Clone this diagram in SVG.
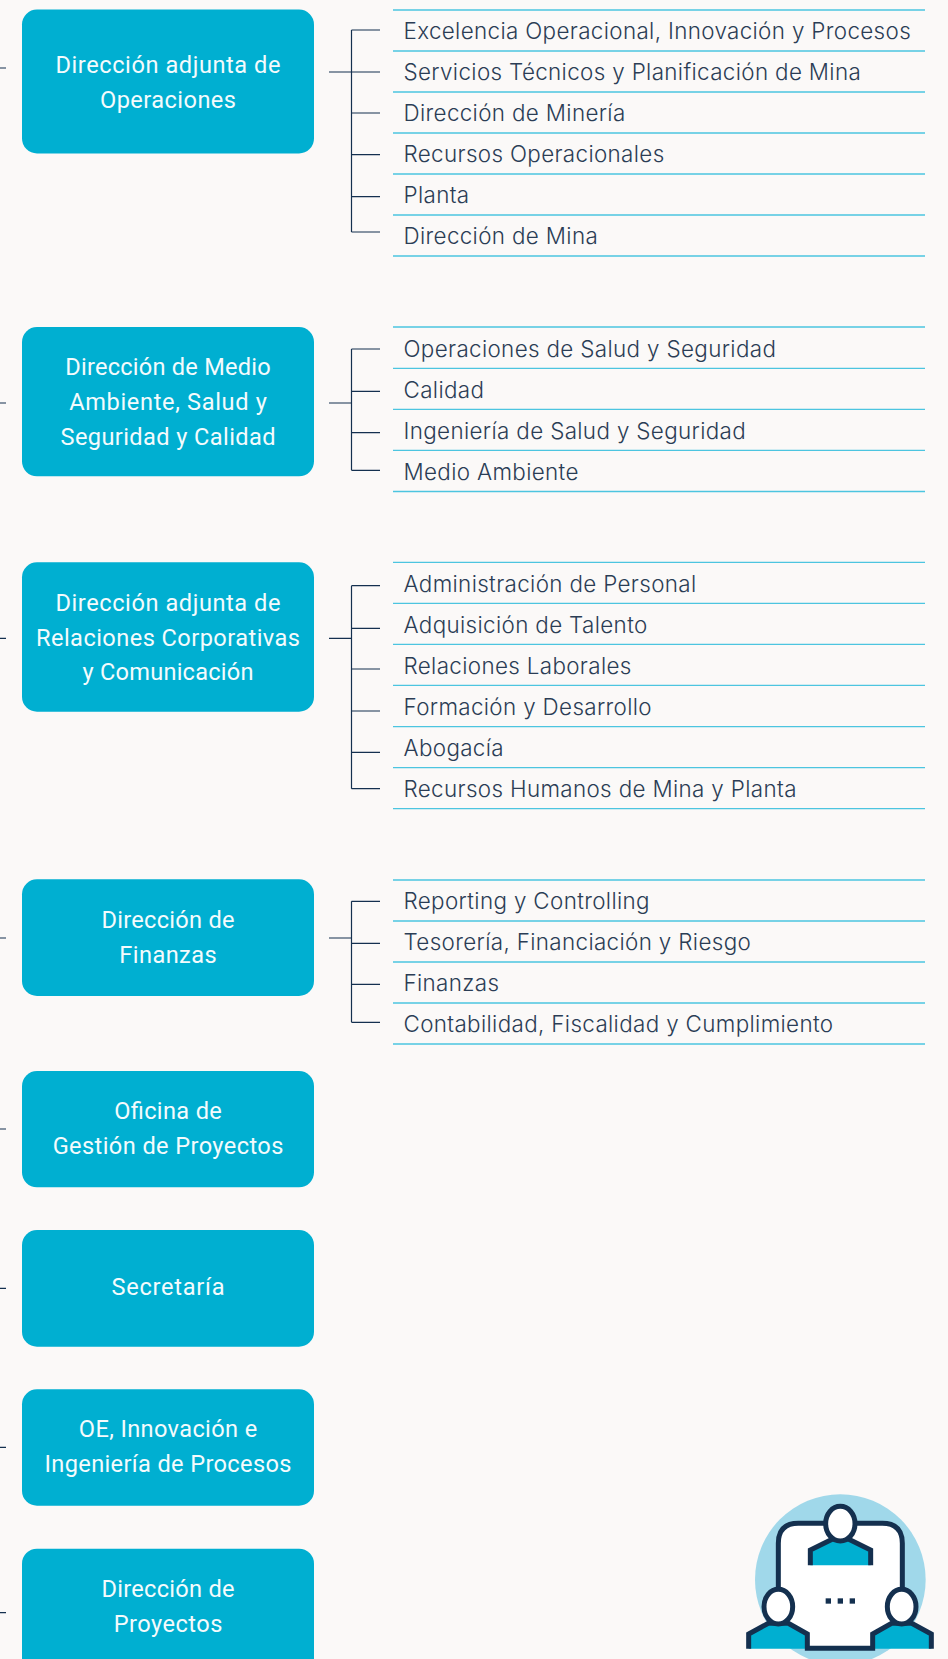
<svg xmlns="http://www.w3.org/2000/svg" width="948" height="1659" viewBox="0 0 948 1659">
<style>
.bg{fill:#fbf9f8}
.box{fill:#00afd1}
.bt{font-family:"Roboto","Liberation Sans",sans-serif;font-weight:400;font-size:23.6px;fill:#f4fbfd;text-anchor:middle}
.lt{font-family:"Inter","Liberation Sans",sans-serif;font-size:22.4px;font-weight:300;fill:#2b3d55;letter-spacing:.35px}
.rule{stroke:#4cc5e0;stroke-width:1.3;fill:none}
.con{stroke:#14304f;stroke-width:1.2;fill:none}
.ico{stroke:#14304f;stroke-width:15;fill:none}
.teal{fill:#00afd1}
</style>
<rect class="bg" width="948" height="1659"/>
<g id="connectors">
<path class="con" d="M0 68H6M329 72H380M351.5 30V232M351.5 30H380M351.5 113H380M351.5 154.7H380M351.5 196.7H380M351.5 232H380"/>
<path class="con" d="M0 403H6M329 403H351.5M351.5 349V470.3M351.5 349H380M351.5 391.3H380M351.5 432.7H380M351.5 470.3H380"/>
<path class="con" d="M0 638.3H6M329 638.3H351.5M351.5 585.7V788.7M351.5 585.7H380M351.5 628.3H380M351.5 669H380M351.5 711H380M351.5 752.3H380M351.5 788.7H380"/>
<path class="con" d="M0 938H6M329 938H351.5M351.5 901.3V1022.3M351.5 901.3H380M351.5 943.3H380M351.5 984.3H380M351.5 1022.3H380"/>
<path class="con" d="M0 1129H6M0 1288.3H6M0 1447.3H6M0 1612.7H6"/>
</g>
<g id="node-operaciones">
<rect class="box" x="22" y="9.5" width="292" height="144" rx="15"/>
<text class="bt" x="168" y="73" textLength="225">Dirección adjunta de</text>
<text class="bt" x="168" y="107.7" textLength="136">Operaciones</text>
</g>
<g id="list-operaciones">
<path class="rule" d="M393 10H925M393 51H925M393 92H925M393 133H925M393 174H925M393 215H925M393 256H925"/>
<text class="lt" x="403.5" y="39.3">Excelencia Operacional, Innovación y Procesos</text>
<text class="lt" x="403.5" y="80.3">Servicios Técnicos y Planificación de Mina</text>
<text class="lt" x="403.5" y="121.3">Dirección de Minería</text>
<text class="lt" x="403.5" y="162.3">Recursos Operacionales</text>
<text class="lt" x="403.5" y="203.3">Planta</text>
<text class="lt" x="403.5" y="244.3">Dirección de Mina</text>
</g>
<g id="node-medio-ambiente">
<rect class="box" x="22" y="327" width="292" height="149.3" rx="15"/>
<text class="bt" x="168" y="375.3" textLength="205.3">Dirección de Medio</text>
<text class="bt" x="168" y="410.3" textLength="197.7">Ambiente, Salud y</text>
<text class="bt" x="168" y="445.3" textLength="215">Seguridad y Calidad</text>
</g>
<g id="list-medio-ambiente">
<path class="rule" d="M393 327H925M393 368.3H925M393 409.3H925M393 450.3H925M393 491.5H925"/>
<text class="lt" x="403.5" y="356.5">Operaciones de Salud y Seguridad</text>
<text class="lt" x="403.5" y="397.5">Calidad</text>
<text class="lt" x="403.5" y="438.5">Ingeniería de Salud y Seguridad</text>
<text class="lt" x="403.5" y="479.5">Medio Ambiente</text>
</g>
<g id="node-relaciones">
<rect class="box" x="22" y="562.3" width="292" height="149.4" rx="15"/>
<text class="bt" x="168" y="611" textLength="225">Dirección adjunta de</text>
<text class="bt" x="168" y="645.7" textLength="264">Relaciones Corporativas</text>
<text class="bt" x="168" y="680.3" textLength="171">y Comunicación</text>
</g>
<g id="list-relaciones">
<path class="rule" d="M393 562.3H925M393 603.3H925M393 644.3H925M393 685.3H925M393 726.6H925M393 767.7H925M393 808.7H925"/>
<text class="lt" x="403.5" y="592.2">Administración de Personal</text>
<text class="lt" x="403.5" y="633.2">Adquisición de Talento</text>
<text class="lt" x="403.5" y="674.2">Relaciones Laborales</text>
<text class="lt" x="403.5" y="715.2">Formación y Desarrollo</text>
<text class="lt" x="403.5" y="756">Abogacía</text>
<text class="lt" x="403.5" y="797.2">Recursos Humanos de Mina y Planta</text>
</g>
<g id="node-finanzas">
<rect class="box" x="22" y="879.3" width="292" height="116.7" rx="15"/>
<text class="bt" x="168" y="928.3" textLength="133">Dirección de</text>
<text class="bt" x="168" y="962.5" textLength="97.3">Finanzas</text>
</g>
<g id="list-finanzas">
<path class="rule" d="M393 880H925M393 921H925M393 962H925M393 1003H925M393 1044H925"/>
<text class="lt" x="403.5" y="909.2">Reporting y Controlling</text>
<text class="lt" x="403.5" y="950.2">Tesorería, Financiación y Riesgo</text>
<text class="lt" x="403.5" y="991.2">Finanzas</text>
<text class="lt" x="403.5" y="1032.2">Contabilidad, Fiscalidad y Cumplimiento</text>
</g>
<g id="node-oficina">
<rect class="box" x="22" y="1071" width="292" height="116.3" rx="15"/>
<text class="bt" x="168" y="1119.3" textLength="107.7">Oficina de</text>
<text class="bt" x="168" y="1154.3" textLength="230.7">Gestión de Proyectos</text>
</g>
<g id="node-secretaria">
<rect class="box" x="22" y="1230" width="292" height="116.7" rx="15"/>
<text class="bt" x="168" y="1295.3" textLength="113">Secretaría</text>
</g>
<g id="node-oe">
<rect class="box" x="22" y="1389.3" width="292" height="116.4" rx="15"/>
<text class="bt" x="168" y="1437.3" textLength="178.3">OE, Innovación e</text>
<text class="bt" x="168" y="1472.3" textLength="247">Ingeniería de Procesos</text>
</g>
<g id="node-proyectos">
<rect class="box" x="22" y="1548.7" width="292" height="125" rx="15"/>
<text class="bt" x="168" y="1597.3" textLength="133">Dirección de</text>
<text class="bt" x="168" y="1631.5" textLength="108.7">Proyectos</text>
</g>
<g id="icon" transform="translate(700 1460) scale(.33333)">
<circle cx="421" cy="359" r="256" fill="#a0d8ea"/>
<path d="M235 250Q235 190 295 190H547Q607 190 607 250V522H518V565H322V522H235Z" fill="#fff"/>
<path class="ico" d="M235 385V250Q235 190 295 190H375M470 190H547Q607 190 607 250V385"/>
<path class="teal" d="M331 316V270L398 237H445L512 270V316Z"/>
<path class="ico" d="M331 316V270L398 237H445L512 270V316"/>
<ellipse class="ico" cx="421" cy="191" rx="44" ry="52" style="fill:#fff"/>
<path class="teal" d="M146 566V522L205 490H265L322 522V566Z"/>
<path class="teal" d="M518 566V522L575 490H635L694 522V566Z"/>
<path class="ico" d="M146 566V522L205 490H265L322 522V565H518V522L575 490H635L694 522V566"/>
<ellipse class="ico" cx="235" cy="440" rx="43" ry="52" style="fill:#fff"/>
<ellipse class="ico" cx="605" cy="440" rx="43" ry="52" style="fill:#fff"/>
<rect x="377" y="415" width="16" height="16" fill="#14304f"/>
<rect x="413" y="415" width="16" height="16" fill="#14304f"/>
<rect x="449" y="415" width="16" height="16" fill="#14304f"/>
</g>
</svg>
